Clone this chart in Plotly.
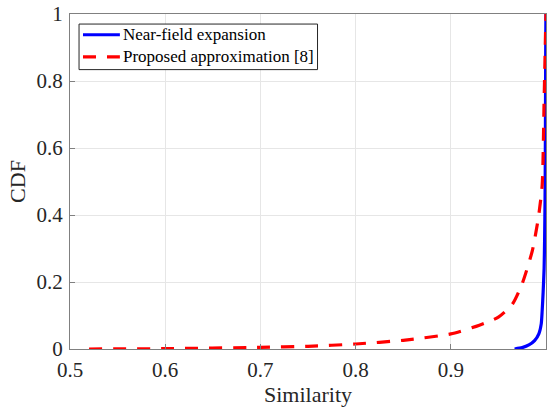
import plotly.graph_objects as go

# Near-field expansion CDF
nf_sim = [0.967, 0.975, 0.982, 0.988, 0.9926, 0.995, 0.996, 0.997, 0.998, 0.9985, 0.999, 0.9993, 0.9995, 0.9997, 0.9999]
nf_cdf = [0.0, 0.004, 0.012, 0.025, 0.046, 0.075, 0.115, 0.17, 0.24, 0.32, 0.45, 0.6, 0.75, 0.9, 1.0]

# Proposed approximation [8] CDF
pa_sim = [0.52, 0.6, 0.7, 0.75, 0.8, 0.85, 0.9, 0.93, 0.95, 0.965, 0.975, 0.9856, 0.992, 0.996, 0.998, 0.9995, 1.0]
pa_cdf = [0.0, 0.001, 0.005, 0.008, 0.015, 0.026, 0.045, 0.071, 0.095, 0.135, 0.195, 0.293, 0.392, 0.49, 0.74, 0.94, 1.0]

series_names = ["Near-field expansion", "Proposed approximation [8]"]
series_colors = ["#0000ff", "#ff0000"]
series_dash = ["solid", "13px,11px"]

x_ticks = [0.5, 0.6, 0.7, 0.8, 0.9, 1.0]
x_ticktext = ["0.5", "0.6", "0.7", "0.8", "0.9", "1"]
y_ticks = [0, 0.2, 0.4, 0.6, 0.8, 1.0]
y_ticktext = ["0", "0.2", "0.4", "0.6", "0.8", "1"]

FONT = "Liberation Serif, serif"
TXT = "#262626"

fig = go.Figure()
fig.add_trace(go.Scatter(x=nf_sim, y=nf_cdf, mode="lines", name=series_names[0],
                         line=dict(color=series_colors[0], width=3.2, shape="spline", smoothing=0.6)))
fig.add_trace(go.Scatter(x=pa_sim, y=pa_cdf, mode="lines", name=series_names[1],
                         line=dict(color=series_colors[1], width=3.2, dash=series_dash[1],
                                   shape="spline", smoothing=0.6)))

axis_common = dict(showgrid=True, gridcolor="#e6e6e6", gridwidth=1, zeroline=False,
                   showline=True, linecolor="#808080", linewidth=1, mirror=True,
                   ticks="inside", ticklen=5, tickcolor="#808080",
                   tickfont=dict(family=FONT, size=21, color=TXT))

# Manual legend (paper coordinates)
shapes = [dict(type="rect", xref="paper", yref="paper", x0=0.019, x1=0.52, y0=0.834, y1=0.970,
               line=dict(color=TXT, width=1), fillcolor="white", layer="above")]
annotations = []
row_y = [0.938, 0.872]
for i in range(2):
    shapes.append(dict(type="line", xref="paper", yref="paper", x0=0.0273, x1=0.1048,
                       y0=row_y[i], y1=row_y[i],
                       line=dict(color=series_colors[i], width=3.2, dash=series_dash[i]), layer="above"))
    annotations.append(dict(xref="paper", yref="paper", x=0.108, y=row_y[i], xanchor="left", yanchor="middle",
                            text=series_names[i], showarrow=False,
                            font=dict(family=FONT, size=17, color="#000000")))

fig.update_layout(
    width=549, height=409,
    margin=dict(l=70, r=2, t=12, b=60),
    paper_bgcolor="white", plot_bgcolor="white",
    xaxis=dict(range=[0.5, 1.0], tickvals=x_ticks, ticktext=x_ticktext, ticklabelstandoff=2,
               title=dict(text="Similarity", font=dict(family=FONT, size=22, color=TXT), standoff=4),
               **axis_common),
    yaxis=dict(range=[0, 1.0], tickvals=y_ticks, ticktext=y_ticktext, ticklabelstandoff=2,
               title=dict(text="CDF", font=dict(family=FONT, size=22, color=TXT), standoff=4),
               **axis_common),
    shapes=shapes,
    annotations=annotations,
    showlegend=False,
)

fig.write_html("out.html")
